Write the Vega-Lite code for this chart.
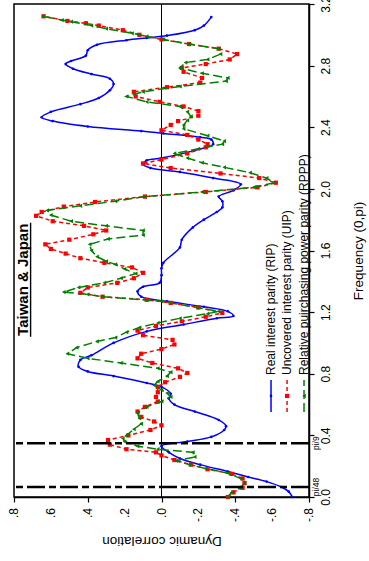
{
  "$schema": "https://vega.github.io/schema/vega-lite/v6.json",
  "autosize": {"type": "none"},
  "padding": {"left": 14, "top": 4, "right": 60, "bottom": 64},
  "width": 295,
  "height": 493,
  "background": "white",
  "config": {
    "view": {"stroke": "#000", "strokeWidth": 1.5},
    "font": "Liberation Sans",
    "axis": {
      "grid": false,
      "domainColor": "#000",
      "domainWidth": 1.5,
      "tickColor": "#000",
      "tickWidth": 1.2,
      "labelColor": "#000",
      "titleColor": "#000",
      "labelFont": "Liberation Sans",
      "titleFont": "Liberation Sans",
      "titleFontWeight": "normal",
      "labelFlush": false,
      "labelOverlap": false
    }
  },
  "datasets": {
    "rip": [
      {"f": 0.00, "c": -0.71}, {"f": 0.035, "c": -0.69}, {"f": 0.065, "c": -0.65}, {"f": 0.10, "c": -0.57},
      {"f": 0.13, "c": -0.47}, {"f": 0.165, "c": -0.36}, {"f": 0.21, "c": -0.21}, {"f": 0.25, "c": -0.10},
      {"f": 0.29, "c": -0.04}, {"f": 0.33, "c": 0.00}, {"f": 0.36, "c": -0.14}, {"f": 0.39, "c": -0.27},
      {"f": 0.435, "c": -0.34}, {"f": 0.46, "c": -0.35}, {"f": 0.50, "c": -0.31}, {"f": 0.555, "c": -0.18},
      {"f": 0.60, "c": -0.07}, {"f": 0.64, "c": -0.04}, {"f": 0.67, "c": -0.05}, {"f": 0.715, "c": 0.00},
      {"f": 0.74, "c": 0.08}, {"f": 0.785, "c": 0.26}, {"f": 0.815, "c": 0.40}, {"f": 0.845, "c": 0.45},
      {"f": 0.89, "c": 0.44}, {"f": 0.92, "c": 0.38}, {"f": 1.00, "c": 0.26}, {"f": 1.075, "c": 0.08},
      {"f": 1.12, "c": -0.12}, {"f": 1.16, "c": -0.30}, {"f": 1.175, "c": -0.39}, {"f": 1.205, "c": -0.36},
      {"f": 1.235, "c": -0.23}, {"f": 1.27, "c": -0.03}, {"f": 1.30, "c": 0.11}, {"f": 1.335, "c": 0.13},
      {"f": 1.365, "c": 0.10}, {"f": 1.39, "c": 0.01}, {"f": 1.44, "c": 0.00}, {"f": 1.485, "c": 0.00},
      {"f": 1.52, "c": -0.01}, {"f": 1.62, "c": -0.10}, {"f": 1.67, "c": -0.11}, {"f": 1.75, "c": -0.17},
      {"f": 1.80, "c": -0.23}, {"f": 1.85, "c": -0.30}, {"f": 1.88, "c": -0.33}, {"f": 1.92, "c": -0.33},
      {"f": 1.95, "c": -0.31}, {"f": 1.99, "c": -0.39}, {"f": 2.03, "c": -0.43}, {"f": 2.07, "c": -0.28},
      {"f": 2.11, "c": -0.10}, {"f": 2.135, "c": 0.06}, {"f": 2.16, "c": 0.10}, {"f": 2.185, "c": 0.08},
      {"f": 2.20, "c": 0.00}, {"f": 2.25, "c": -0.18}, {"f": 2.29, "c": -0.28}, {"f": 2.32, "c": -0.27},
      {"f": 2.335, "c": -0.21}, {"f": 2.36, "c": -0.01}, {"f": 2.375, "c": 0.11}, {"f": 2.405, "c": 0.40},
      {"f": 2.44, "c": 0.59}, {"f": 2.465, "c": 0.65}, {"f": 2.50, "c": 0.60}, {"f": 2.55, "c": 0.44},
      {"f": 2.59, "c": 0.34}, {"f": 2.64, "c": 0.28}, {"f": 2.68, "c": 0.26}, {"f": 2.715, "c": 0.28},
      {"f": 2.745, "c": 0.38}, {"f": 2.78, "c": 0.48}, {"f": 2.81, "c": 0.52}, {"f": 2.83, "c": 0.49},
      {"f": 2.865, "c": 0.41}, {"f": 2.90, "c": 0.40}, {"f": 2.935, "c": 0.35}, {"f": 2.965, "c": 0.19},
      {"f": 2.98, "c": 0.08}, {"f": 2.995, "c": -0.03}, {"f": 3.03, "c": -0.18}, {"f": 3.06, "c": -0.23},
      {"f": 3.115, "c": -0.27}
    ],
    "uip": [
      {"f": 0.00, "c": -0.36}, {"f": 0.03, "c": -0.39}, {"f": 0.06, "c": -0.44}, {"f": 0.09, "c": -0.45},
      {"f": 0.12, "c": -0.44}, {"f": 0.15, "c": -0.38}, {"f": 0.18, "c": -0.25}, {"f": 0.21, "c": -0.16},
      {"f": 0.24, "c": -0.07}, {"f": 0.27, "c": 0.00}, {"f": 0.29, "c": 0.03}, {"f": 0.31, "c": 0.19},
      {"f": 0.34, "c": 0.28}, {"f": 0.37, "c": 0.29}, {"f": 0.40, "c": 0.18}, {"f": 0.435, "c": 0.06},
      {"f": 0.465, "c": 0.00}, {"f": 0.49, "c": 0.04}, {"f": 0.52, "c": 0.11}, {"f": 0.555, "c": 0.13},
      {"f": 0.585, "c": 0.09}, {"f": 0.62, "c": 0.02}, {"f": 0.65, "c": 0.03}, {"f": 0.68, "c": 0.02},
      {"f": 0.715, "c": 0.02}, {"f": 0.745, "c": -0.02}, {"f": 0.78, "c": -0.10}, {"f": 0.805, "c": -0.14},
      {"f": 0.835, "c": -0.09}, {"f": 0.87, "c": 0.05}, {"f": 0.90, "c": 0.13}, {"f": 0.93, "c": 0.11},
      {"f": 0.96, "c": 0.00}, {"f": 0.99, "c": -0.07}, {"f": 1.02, "c": -0.06}, {"f": 1.05, "c": 0.10},
      {"f": 1.08, "c": 0.13}, {"f": 1.11, "c": 0.03}, {"f": 1.14, "c": -0.11}, {"f": 1.17, "c": -0.24},
      {"f": 1.195, "c": -0.33}, {"f": 1.23, "c": -0.20}, {"f": 1.26, "c": -0.05}, {"f": 1.28, "c": 0.08},
      {"f": 1.30, "c": 0.32}, {"f": 1.325, "c": 0.44}, {"f": 1.36, "c": 0.40}, {"f": 1.39, "c": 0.24},
      {"f": 1.42, "c": 0.15}, {"f": 1.455, "c": 0.10}, {"f": 1.49, "c": 0.16}, {"f": 1.52, "c": 0.31},
      {"f": 1.55, "c": 0.44}, {"f": 1.58, "c": 0.52}, {"f": 1.61, "c": 0.60}, {"f": 1.64, "c": 0.63},
      {"f": 1.67, "c": 0.50}, {"f": 1.705, "c": 0.37}, {"f": 1.73, "c": 0.30}, {"f": 1.76, "c": 0.42},
      {"f": 1.79, "c": 0.59}, {"f": 1.825, "c": 0.68}, {"f": 1.85, "c": 0.65}, {"f": 1.885, "c": 0.53},
      {"f": 1.915, "c": 0.36}, {"f": 1.95, "c": 0.09}, {"f": 1.98, "c": -0.24}, {"f": 2.01, "c": -0.52},
      {"f": 2.04, "c": -0.62}, {"f": 2.07, "c": -0.53}, {"f": 2.10, "c": -0.32}, {"f": 2.135, "c": -0.05},
      {"f": 2.165, "c": 0.10}, {"f": 2.19, "c": 0.00}, {"f": 2.23, "c": -0.14}, {"f": 2.27, "c": -0.24},
      {"f": 2.29, "c": -0.25}, {"f": 2.32, "c": -0.20}, {"f": 2.35, "c": -0.14}, {"f": 2.38, "c": 0.00},
      {"f": 2.415, "c": -0.05}, {"f": 2.44, "c": -0.09}, {"f": 2.475, "c": -0.20}, {"f": 2.505, "c": -0.20},
      {"f": 2.535, "c": -0.12}, {"f": 2.565, "c": 0.01}, {"f": 2.60, "c": 0.14}, {"f": 2.63, "c": 0.15},
      {"f": 2.66, "c": -0.03}, {"f": 2.69, "c": -0.21}, {"f": 2.72, "c": -0.22}, {"f": 2.76, "c": -0.12},
      {"f": 2.785, "c": -0.11}, {"f": 2.81, "c": -0.24}, {"f": 2.84, "c": -0.37}, {"f": 2.875, "c": -0.41},
      {"f": 2.91, "c": -0.31}, {"f": 2.94, "c": -0.15}, {"f": 2.97, "c": 0.00}, {"f": 3.00, "c": 0.12},
      {"f": 3.03, "c": 0.21}, {"f": 3.06, "c": 0.34}, {"f": 3.075, "c": 0.41}, {"f": 3.09, "c": 0.51},
      {"f": 3.12, "c": 0.64}
    ],
    "rppp": [
      {"f": 0.00, "c": -0.36}, {"f": 0.03, "c": -0.38}, {"f": 0.06, "c": -0.43}, {"f": 0.09, "c": -0.45},
      {"f": 0.12, "c": -0.43}, {"f": 0.155, "c": -0.36}, {"f": 0.185, "c": -0.24}, {"f": 0.21, "c": -0.15},
      {"f": 0.235, "c": -0.08}, {"f": 0.26, "c": -0.18}, {"f": 0.29, "c": -0.17}, {"f": 0.31, "c": 0.02},
      {"f": 0.33, "c": 0.13}, {"f": 0.36, "c": 0.20}, {"f": 0.38, "c": 0.21}, {"f": 0.40, "c": 0.19},
      {"f": 0.44, "c": 0.15}, {"f": 0.475, "c": 0.11}, {"f": 0.51, "c": 0.12}, {"f": 0.545, "c": 0.13},
      {"f": 0.585, "c": 0.08}, {"f": 0.62, "c": 0.00}, {"f": 0.65, "c": -0.05}, {"f": 0.675, "c": -0.03},
      {"f": 0.695, "c": 0.00}, {"f": 0.725, "c": 0.04}, {"f": 0.75, "c": 0.02}, {"f": 0.785, "c": -0.03},
      {"f": 0.81, "c": -0.05}, {"f": 0.835, "c": 0.02}, {"f": 0.87, "c": 0.22}, {"f": 0.90, "c": 0.40},
      {"f": 0.93, "c": 0.51}, {"f": 0.97, "c": 0.46}, {"f": 1.01, "c": 0.35}, {"f": 1.035, "c": 0.25},
      {"f": 1.07, "c": 0.19}, {"f": 1.10, "c": 0.12}, {"f": 1.13, "c": 0.02}, {"f": 1.16, "c": -0.10},
      {"f": 1.19, "c": -0.25}, {"f": 1.205, "c": -0.31}, {"f": 1.23, "c": -0.19}, {"f": 1.27, "c": 0.00},
      {"f": 1.30, "c": 0.32}, {"f": 1.315, "c": 0.40}, {"f": 1.33, "c": 0.53}, {"f": 1.36, "c": 0.45},
      {"f": 1.39, "c": 0.31}, {"f": 1.42, "c": 0.22}, {"f": 1.45, "c": 0.14}, {"f": 1.48, "c": 0.20},
      {"f": 1.51, "c": 0.25}, {"f": 1.53, "c": 0.30}, {"f": 1.56, "c": 0.35}, {"f": 1.60, "c": 0.38},
      {"f": 1.64, "c": 0.39}, {"f": 1.675, "c": 0.29}, {"f": 1.70, "c": 0.10}, {"f": 1.73, "c": 0.10},
      {"f": 1.76, "c": 0.30}, {"f": 1.79, "c": 0.49}, {"f": 1.83, "c": 0.60}, {"f": 1.86, "c": 0.62},
      {"f": 1.89, "c": 0.44}, {"f": 1.92, "c": 0.25}, {"f": 1.95, "c": 0.09}, {"f": 1.98, "c": -0.22},
      {"f": 2.01, "c": -0.50}, {"f": 2.04, "c": -0.61}, {"f": 2.07, "c": -0.57}, {"f": 2.105, "c": -0.48},
      {"f": 2.14, "c": -0.34}, {"f": 2.17, "c": -0.22}, {"f": 2.20, "c": -0.14}, {"f": 2.23, "c": -0.07},
      {"f": 2.26, "c": -0.20}, {"f": 2.29, "c": -0.33}, {"f": 2.31, "c": -0.34}, {"f": 2.345, "c": -0.25},
      {"f": 2.39, "c": -0.12}, {"f": 2.415, "c": -0.12}, {"f": 2.445, "c": -0.14}, {"f": 2.47, "c": -0.16},
      {"f": 2.50, "c": -0.14}, {"f": 2.535, "c": -0.10}, {"f": 2.565, "c": 0.08}, {"f": 2.60, "c": 0.19},
      {"f": 2.63, "c": 0.10}, {"f": 2.665, "c": -0.10}, {"f": 2.70, "c": -0.35}, {"f": 2.72, "c": -0.36},
      {"f": 2.75, "c": -0.22}, {"f": 2.785, "c": -0.10}, {"f": 2.82, "c": -0.13}, {"f": 2.84, "c": -0.25},
      {"f": 2.875, "c": -0.32}, {"f": 2.91, "c": -0.31}, {"f": 2.94, "c": -0.15}, {"f": 2.97, "c": -0.01},
      {"f": 2.99, "c": 0.08}, {"f": 3.01, "c": 0.16}, {"f": 3.04, "c": 0.30}, {"f": 3.06, "c": 0.38},
      {"f": 3.085, "c": 0.49}, {"f": 3.095, "c": 0.54}, {"f": 3.12, "c": 0.64}
    ],
    "cutoffs": [
      {"f": 0.0654, "lab": "pi/48"},
      {"f": 0.3491, "lab": "pi/9"}
    ],
    "corrTicks": [
      {"v": 0.8, "lab": ".8"}, {"v": 0.6, "lab": ".6"}, {"v": 0.4, "lab": ".4"},
      {"v": 0.2, "lab": ".2"}, {"v": 0.0, "lab": ".0"}, {"v": -0.2, "lab": "-.2"},
      {"v": -0.4, "lab": "-.4"}, {"v": -0.6, "lab": "-.6"}, {"v": -0.8, "lab": "-.8"}
    ]
  },
  "layer": [
    {
      "data": {"name": "rip"},
      "mark": {"type": "rule", "color": "#000", "strokeWidth": 1},
      "encoding": {
        "x": {
          "datum": 0,
          "type": "quantitative",
          "scale": {"domain": [-0.8, 0.8], "reverse": true, "nice": false, "zero": false},
          "axis": {
            "orient": "bottom",
            "title": "Dynamic correlation",
            "values": [-0.8, -0.6, -0.4, -0.2, 0, 0.2, 0.4, 0.6, 0.8],
            "labels": false,
            "tickSize": 5,
            "titleAngle": 180,
            "titleBaseline": "bottom",
            "titleFontSize": 13.5,
            "titlePadding": 31
          }
        },
        "y": {
          "datum": 0,
          "type": "quantitative",
          "scale": {"domain": [0, 3.2], "nice": false, "zero": false},
          "axis": {
            "orient": "right",
            "title": "Frequency (0,pi)",
            "values": [0, 0.4, 0.8, 1.2, 1.6, 2.0, 2.4, 2.8, 3.2],
            "format": ".1f",
            "labelAngle": 270,
            "labelAlign": "center",
            "labelBaseline": "top",
            "labelFontSize": 12,
            "labelPadding": 6,
            "labelFlush": false,
            "tickSize": 5,
            "titleAngle": 270,
            "titleBaseline": "top",
            "titleFontSize": 13.5,
            "titlePadding": 20
          }
        },
        "y2": {"datum": 3.2}
      }
    },
    {
      "data": {"name": "corrTicks"},
      "mark": {"type": "text", "angle": 270, "align": "right", "baseline": "middle", "fontSize": 12, "color": "#000"},
      "encoding": {
        "x": {"field": "v", "type": "quantitative"},
        "y": {"datum": -0.072},
        "text": {"field": "lab"}
      }
    },
    {
      "data": {"name": "rip"},
      "mark": {"type": "line", "color": "#0000ff", "strokeWidth": 1.5, "interpolate": "catmull-rom"},
      "encoding": {
        "x": {"field": "c", "type": "quantitative"},
        "y": {"field": "f", "type": "quantitative"},
        "order": {"field": "f", "type": "quantitative"}
      }
    },
    {
      "data": {"name": "rip"},
      "mark": {"type": "point", "filled": true, "size": 7, "color": "#0000ff", "opacity": 1},
      "encoding": {
        "x": {"field": "c", "type": "quantitative"},
        "y": {"field": "f", "type": "quantitative"}
      }
    },
    {
      "data": {"name": "uip"},
      "mark": {"type": "line", "color": "#ff0000", "strokeWidth": 1.5, "strokeDash": [4, 3]},
      "encoding": {
        "x": {"field": "c", "type": "quantitative"},
        "y": {"field": "f", "type": "quantitative"},
        "order": {"field": "f", "type": "quantitative"}
      }
    },
    {
      "data": {"name": "uip"},
      "mark": {"type": "square", "size": 18, "color": "#ff0000", "opacity": 1},
      "encoding": {
        "x": {"field": "c", "type": "quantitative"},
        "y": {"field": "f", "type": "quantitative"}
      }
    },
    {
      "data": {"name": "rppp"},
      "mark": {"type": "line", "color": "#008000", "strokeWidth": 1.5, "strokeDash": [9, 4]},
      "encoding": {
        "x": {"field": "c", "type": "quantitative"},
        "y": {"field": "f", "type": "quantitative"},
        "order": {"field": "f", "type": "quantitative"}
      }
    },
    {
      "data": {"name": "rppp"},
      "mark": {"type": "point", "shape": "triangle-left", "filled": true, "size": 18, "color": "#008000", "opacity": 1},
      "encoding": {
        "x": {"field": "c", "type": "quantitative"},
        "y": {"field": "f", "type": "quantitative"}
      }
    },
    {
      "data": {"name": "cutoffs"},
      "mark": {"type": "rule", "color": "#000", "strokeWidth": 2.5, "strokeDash": [18, 4, 7, 4]},
      "encoding": {
        "y": {"field": "f", "type": "quantitative"}
      }
    },
    {
      "data": {"name": "cutoffs"},
      "mark": {"type": "text", "angle": 270, "align": "center", "baseline": "middle", "fontSize": 8.5, "color": "#000"},
      "encoding": {
        "x": {"datum": -0.84},
        "y": {"field": "f", "type": "quantitative"},
        "text": {"field": "lab"}
      }
    },
    {
      "data": {"values": [{"t": "Taiwan & Japan"}]},
      "layer": [
        {
          "mark": {"type": "text", "angle": 270, "align": "center", "baseline": "alphabetic", "fontSize": 15, "fontWeight": "bold", "color": "#000"},
          "encoding": {
            "x": {"datum": 0.724},
            "y": {"datum": 1.41},
            "text": {"field": "t"}
          }
        },
        {
          "mark": {"type": "rule", "color": "#000", "strokeWidth": 1.4},
          "encoding": {
            "x": {"datum": 0.71},
            "y": {"datum": 1.04},
            "y2": {"datum": 1.78}
          }
        }
      ]
    },
    {
      "data": {"values": [{"label": "Real interest parity (RIP)"}]},
      "layer": [
        {
          "mark": {"type": "rule", "color": "#0000ff", "strokeWidth": 1.5},
          "encoding": {"x": {"datum": -0.594}, "y": {"datum": 0.552}, "y2": {"datum": 0.76}}
        },
        {
          "mark": {"type": "point", "filled": true, "size": 7, "color": "#0000ff", "opacity": 1},
          "encoding": {"x": {"datum": -0.594}, "y": {"datum": 0.656}}
        },
        {
          "mark": {"type": "text", "angle": 270, "align": "left", "baseline": "middle", "fontSize": 12, "color": "#000"},
          "encoding": {"x": {"datum": -0.594}, "y": {"datum": 0.792}, "text": {"field": "label"}}
        }
      ]
    },
    {
      "data": {"values": [{"label": "Uncovered interest parity (UIP)"}]},
      "layer": [
        {
          "mark": {"type": "rule", "color": "#ff0000", "strokeWidth": 1.5, "strokeDash": [4, 3]},
          "encoding": {"x": {"datum": -0.681}, "y": {"datum": 0.552}, "y2": {"datum": 0.76}}
        },
        {
          "mark": {"type": "square", "size": 18, "color": "#ff0000", "opacity": 1},
          "encoding": {"x": {"datum": -0.681}, "y": {"datum": 0.656}}
        },
        {
          "mark": {"type": "text", "angle": 270, "align": "left", "baseline": "middle", "fontSize": 12, "color": "#000"},
          "encoding": {"x": {"datum": -0.681}, "y": {"datum": 0.792}, "text": {"field": "label"}}
        }
      ]
    },
    {
      "data": {"values": [{"label": "Relative puirchasing power parity (RPPP)"}]},
      "layer": [
        {
          "mark": {"type": "rule", "color": "#008000", "strokeWidth": 1.5, "strokeDash": [9, 4]},
          "encoding": {"x": {"datum": -0.773}, "y": {"datum": 0.552}, "y2": {"datum": 0.76}}
        },
        {
          "mark": {"type": "point", "shape": "triangle-left", "filled": true, "size": 18, "color": "#008000", "opacity": 1},
          "encoding": {"x": {"datum": -0.773}, "y": {"datum": 0.656}}
        },
        {
          "mark": {"type": "text", "angle": 270, "align": "left", "baseline": "middle", "fontSize": 12, "color": "#000"},
          "encoding": {"x": {"datum": -0.773}, "y": {"datum": 0.792}, "text": {"field": "label"}}
        }
      ]
    }
  ]
}
